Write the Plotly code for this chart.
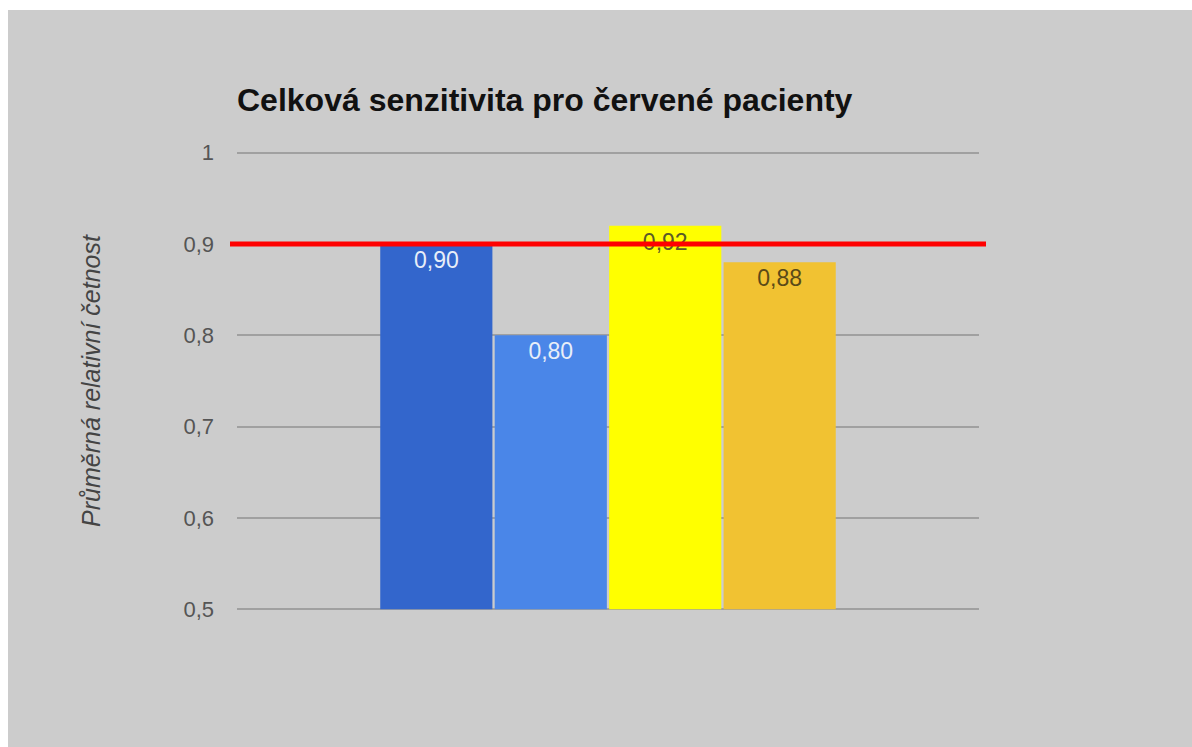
import plotly.graph_objects as go

# Data
category = ["Celkem"]
series_names = ["Řada 1", "Řada 2", "Řada 3", "Řada 4"]
series_values = [0.90, 0.80, 0.92, 0.88]
series_colors = ["#3366cc", "#4a86e8", "#ffff00", "#f1c232"]
label_colors = ["#e8eef8", "#e8eef8", "#5a5a28", "#5a4a18"]
threshold = 0.9
y_min = 0.5
y_ticks = [0.5, 0.6, 0.7, 0.8, 0.9, 1.0]

W, H = 1192, 747
L, R, T, B = 237, 213, 150, 135
pw, ph = W - L - R, H - T - B

fig = go.Figure()
for name, v, c, tc in zip(series_names, series_values, series_colors, label_colors):
    fig.add_trace(go.Bar(
        x=category, y=[v - y_min], base=[y_min], name=name,
        customdata=[v],
        marker=dict(color=c, line=dict(width=0)),
        texttemplate="%{customdata:.2f}", textposition="inside", insidetextanchor="end",
        textangle=0,
        textfont=dict(family="Arial, Liberation Sans, sans-serif", size=23, color=tc),
        showlegend=False,
    ))

# grey chart background (white strip at top/left like the screenshot)
fig.add_shape(type="rect", xref="paper", yref="paper", layer="below",
              x0=(8 - L) / pw, x1=(W + 10 - L) / pw,
              y0=-(B + 20) / ph, y1=(H - 10 - B) / ph,
              fillcolor="#cccccc", line=dict(width=0))

# red threshold line
fig.add_shape(type="line", xref="paper", yref="y",
              x0=-7 / pw, x1=1 + 7 / pw, y0=threshold, y1=threshold,
              line=dict(color="#ff0000", width=5))

fig.update_layout(
    width=W, height=H,
    margin=dict(l=L, r=R, t=T, b=B, autoexpand=False),
    paper_bgcolor="#ffffff", plot_bgcolor="#cccccc",
    separators=", ",
    barmode="group", bargap=0.383, bargroupgap=0.02,
    font=dict(family="Arial, Liberation Sans, sans-serif", color="#444444"),
    title=dict(text="<b>Celková senzitivita pro červené pacienty</b>",
               font=dict(size=32, color="#111111"),
               xref="paper", x=0, xanchor="left",
               yref="container", y=1 - 100 / H, yanchor="middle"),
    xaxis=dict(showticklabels=False, showgrid=False, zeroline=False, showline=False, ticks=""),
    yaxis=dict(range=[0.497, 1.003], tickvals=y_ticks, showgrid=True,
               gridcolor="#a0a0a0", gridwidth=1.5, zeroline=False, showline=False,
               ticks="", ticklabelstandoff=22,
               tickfont=dict(size=22, color="#555555"),
               title=dict(text="<i>Průměrná relativní četnost</i>", standoff=75,
                          font=dict(size=25, color="#444444"))),
)

fig.write_html("out.html", config={"displayModeBar": False},
               post_script="document.body.style.margin='0';document.body.style.overflow='hidden';")
